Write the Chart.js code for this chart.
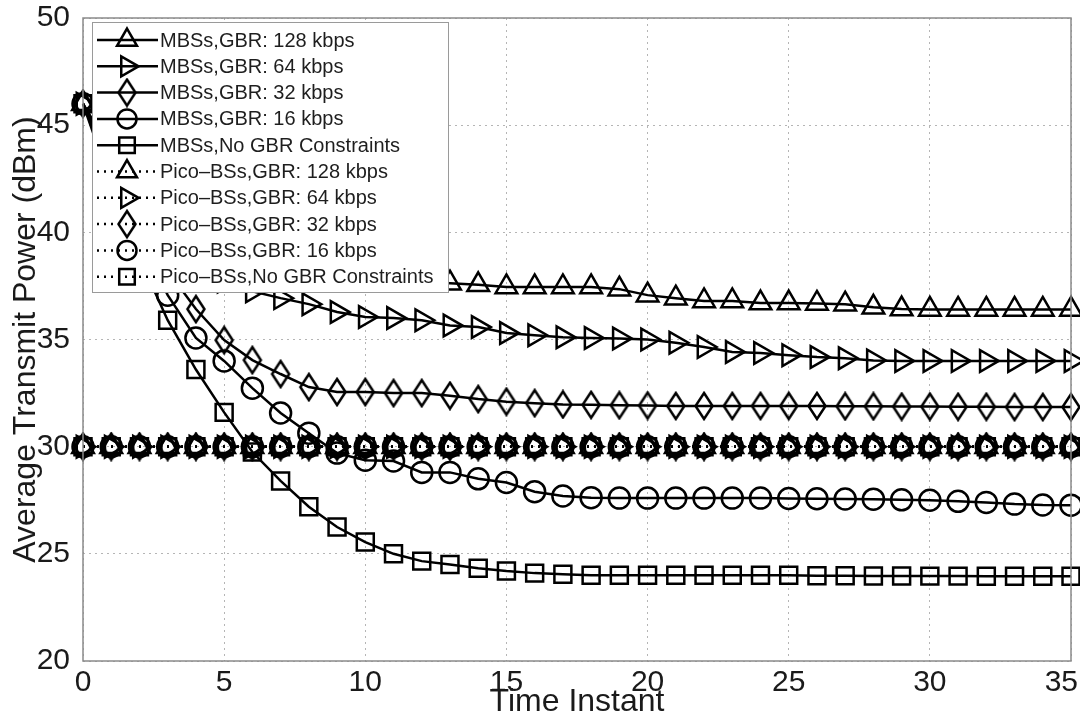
<!DOCTYPE html>
<html>
<head>
<meta charset="utf-8">
<script src="https://cdn.jsdelivr.net/npm/chart.js@4.4.1/dist/chart.umd.min.js"></script>
<style>
  html, body { margin: 0; padding: 0; background: #fff; }
  #wrap { width: 1080px; height: 718px; }
</style>
</head>
<body>
<div id="wrap"><canvas id="powerChart" width="1080" height="718"></canvas></div>
<script>
// Average transmit power over time, MBSs vs Pico-BSs
const timeInstant = [0, 1, 2, 3, 4, 5, 6, 7, 8, 9, 10, 11, 12, 13, 14, 15, 16, 17, 18, 19, 20, 21, 22, 23, 24, 25, 26, 27, 28, 29, 30, 31, 32, 33, 34, 35];
const xTicks = [0, 5, 10, 15, 20, 25, 30, 35];
const yTicks = [20, 25, 30, 35, 40, 45, 50];

const mbs128 = [46, 43.8, 41.8, 40.2, 39.2, 38.6, 38.2, 38.0, 37.9, 37.85, 37.8, 37.75, 37.7, 37.63, 37.55, 37.45, 37.45, 37.45, 37.45, 37.35, 37.07, 36.93, 36.8, 36.8, 36.7, 36.7, 36.68, 36.65, 36.5, 36.42, 36.4, 36.4, 36.4, 36.4, 36.4, 36.4];
const mbs64 = [46, 43.5, 41.2, 39.6, 38.4, 37.7, 37.25, 36.93, 36.65, 36.28, 36.05, 36.0, 35.9, 35.65, 35.58, 35.3, 35.2, 35.1, 35.07, 35.05, 35.0, 34.85, 34.65, 34.42, 34.37, 34.27, 34.18, 34.13, 34.02, 34.0, 34.0, 34.0, 34.0, 34.0, 34.0, 34.0];
const mbs32 = [46, 43.2, 40.4, 38.2, 36.42, 34.97, 34.04, 33.39, 32.78, 32.55, 32.55, 32.5, 32.5, 32.38, 32.22, 32.1, 32.03, 31.97, 31.95, 31.93, 31.92, 31.9, 31.9, 31.9, 31.9, 31.9, 31.9, 31.88, 31.88, 31.87, 31.87, 31.86, 31.86, 31.85, 31.85, 31.85];
const mbs16 = [46, 42.8, 39.8, 37.07, 35.07, 34.0, 32.73, 31.57, 30.63, 29.7, 29.37, 29.33, 28.8, 28.8, 28.5, 28.33, 27.9, 27.7, 27.62, 27.6, 27.6, 27.6, 27.6, 27.6, 27.6, 27.58, 27.57, 27.56, 27.55, 27.52, 27.5, 27.45, 27.4, 27.32, 27.28, 27.27];
const mbsNoGbr = [46, 42.2, 38.8, 35.9, 33.6, 31.6, 29.75, 28.4, 27.2, 26.25, 25.55, 25.0, 24.66, 24.5, 24.33, 24.2, 24.1, 24.05, 24.0, 24.0, 24.0, 24.0, 24.0, 24.0, 24.0, 24.0, 23.98, 23.98, 23.97, 23.97, 23.96, 23.96, 23.95, 23.95, 23.95, 23.95];

const pico128 = [30, 30, 30, 30, 30, 30, 30, 30, 30, 30, 30, 30, 30, 30, 30, 30, 30, 30, 30, 30, 30, 30, 30, 30, 30, 30, 30, 30, 30, 30, 30, 30, 30, 30, 30, 30];
const pico64 = [30, 30, 30, 30, 30, 30, 30, 30, 30, 30, 30, 30, 30, 30, 30, 30, 30, 30, 30, 30, 30, 30, 30, 30, 30, 30, 30, 30, 30, 30, 30, 30, 30, 30, 30, 30];
const pico32 = [30, 30, 30, 30, 30, 30, 30, 30, 30, 30, 30, 30, 30, 30, 30, 30, 30, 30, 30, 30, 30, 30, 30, 30, 30, 30, 30, 30, 30, 30, 30, 30, 30, 30, 30, 30];
const pico16 = [30, 30, 30, 30, 30, 30, 30, 30, 30, 30, 30, 30, 30, 30, 30, 30, 30, 30, 30, 30, 30, 30, 30, 30, 30, 30, 30, 30, 30, 30, 30, 30, 30, 30, 30, 30];
const picoNoGbr = [30, 30, 30, 30, 30, 30, 30, 30, 30, 30, 30, 30, 30, 30, 30, 30, 30, 30, 30, 30, 30, 30, 30, 30, 30, 30, 30, 30, 30, 30, 30, 30, 30, 30, 30, 30];

const seriesLabels = [
    'MBSs,GBR: 128 kbps', 'MBSs,GBR: 64 kbps', 'MBSs,GBR: 32 kbps', 'MBSs,GBR: 16 kbps', 'MBSs,No GBR Constraints',
    'Pico\u2013BSs,GBR: 128 kbps', 'Pico\u2013BSs,GBR: 64 kbps', 'Pico\u2013BSs,GBR: 32 kbps', 'Pico\u2013BSs,GBR: 16 kbps', 'Pico\u2013BSs,No GBR Constraints'
];
const seriesValues = [mbs128, mbs64, mbs32, mbs16, mbsNoGbr, pico128, pico64, pico32, pico16, picoNoGbr];

// matlab-like tall diamond, chart.js rectRot is a square one
function tallDiamond() {
    const c = document.createElement('canvas');
    c.width = 22; c.height = 30;
    const g = c.getContext('2d');
    g.strokeStyle = '#000';
    g.lineWidth = 2.5;
    g.beginPath();
    g.moveTo(11, 2); g.lineTo(19.5, 15); g.lineTo(11, 28); g.lineTo(2.5, 15);
    g.closePath();
    g.stroke();
    return c;
}
const diamondImg = tallDiamond();

// marker per GBR level: [style, rotation, radius]
const markers = [
    ['triangle', 0, 12.5],
    ['triangle', 90, 12.5],
    [diamondImg, 0, 12],
    ['circle', 0, 10.5],
    ['rect', 0, 12]
];

const FONT = '"Liberation Sans", Arial, sans-serif';

const datasets = seriesValues.map(function(vals, i) {
    const m = markers[i % 5];
    const dotted = i >= 5;
    return {
        label: seriesLabels[i],
        data: vals.map(function(v, k) { return { x: timeInstant[k], y: v }; }),
        borderColor: '#000',
        borderWidth: 2.5,
        borderDash: dotted ? [2, 5] : [],
        backgroundColor: 'rgba(0,0,0,0)',
        pointStyle: m[0],
        pointRotation: m[1],
        pointRadius: m[2],
        pointBorderWidth: 2.5,
        pointBorderColor: '#000',
        pointBackgroundColor: 'rgba(0,0,0,0)',
        tension: 0,
        fill: false,
        clip: false
    };
});

// axes box + matlab style legend drawn on top of the lines
const frameAndLegend = {
    id: 'frameAndLegend',
    afterDatasetsDraw(chart) {
        const ctx = chart.ctx;
        const a = chart.chartArea;
        ctx.save();
        ctx.setLineDash([]);
        ctx.strokeStyle = '#8a8a8a';
        ctx.lineWidth = 1.5;
        ctx.strokeRect(a.left, a.top, a.right - a.left, a.bottom - a.top);

        const bx = a.left + 9, by = a.top + 4, bw = 356, bh = 270;
        ctx.fillStyle = '#fff';
        ctx.fillRect(bx, by, bw, bh);
        ctx.strokeStyle = '#9a9a9a';
        ctx.lineWidth = 1;
        ctx.strokeRect(bx + 0.5, by + 0.5, bw, bh);

        chart.data.datasets.forEach(function(ds, i) {
            const cy = by + 18 + i * 26.3;
            ctx.strokeStyle = '#000';
            ctx.lineWidth = ds.borderWidth;
            ctx.setLineDash(ds.borderDash);
            ctx.beginPath();
            ctx.moveTo(bx + 5, cy);
            ctx.lineTo(bx + 66, cy);
            ctx.stroke();
            ctx.setLineDash([]);
            ctx.fillStyle = 'rgba(0,0,0,0)';
            ctx.lineWidth = ds.pointBorderWidth;
            Chart.helpers.drawPoint(ctx, {
                pointStyle: ds.pointStyle,
                rotation: ds.pointRotation,
                radius: ds.pointRadius - 1,
                borderWidth: ds.pointBorderWidth
            }, bx + 35, cy);
            ctx.fillStyle = '#1e1e1e';
            ctx.font = '20px ' + FONT;
            ctx.textBaseline = 'middle';
            ctx.textAlign = 'left';
            ctx.fillText(ds.label, bx + 68, cy + 1);
        });

        // x tick labels, placed on the x scale; last one kept inside the canvas
        const xs = chart.scales.x;
        ctx.fillStyle = '#1a1a1a';
        ctx.font = '30px ' + FONT;
        ctx.textAlign = 'center';
        ctx.textBaseline = 'alphabetic';
        xTicks.forEach(function(v) {
            const txt = String(v);
            const half = ctx.measureText(txt).width / 2;
            const px = Math.min(xs.getPixelForValue(v), chart.width - 2 - half);
            ctx.fillText(txt, px, a.bottom + 30);
        });
        ctx.restore();
    }
};

const ctx = document.getElementById('powerChart').getContext('2d');
const powerChart = new Chart(ctx, {
    type: 'line',
    data: { datasets: datasets },
    options: {
        responsive: false,
        animation: false,
        layout: { autoPadding: false, padding: { left: 0, top: 18, right: 9, bottom: 0 } },
        plugins: {
            legend: { display: false },
            tooltip: { enabled: false }
        },
        scales: {
            x: {
                type: 'linear',
                min: 0,
                max: 35,
                afterFit: function(scale) { scale.height = 57; scale.paddingLeft = 0; scale.paddingRight = 0; },
                afterBuildTicks: function(scale) { scale.ticks = xTicks.map(function(v) { return { value: v }; }); },
                grid: { color: '#b5b5b5', lineWidth: 1, drawTicks: false },
                border: { display: false, dash: [2, 4] },
                ticks: { display: false },
                title: { display: true, text: 'Time Instant', color: '#1a1a1a', font: { family: FONT, size: 32, lineHeight: 1 }, padding: { top: 0, bottom: 0 } }
            },
            y: {
                type: 'linear',
                min: 20,
                max: 50,
                afterFit: function(scale) { scale.width = 83; scale.paddingTop = 0; scale.paddingBottom = 0; },
                afterBuildTicks: function(scale) { scale.ticks = yTicks.map(function(v) { return { value: v }; }); },
                grid: { color: '#b5b5b5', lineWidth: 1, drawTicks: false },
                border: { display: false, dash: [2, 4] },
                ticks: { color: '#1a1a1a', font: { family: FONT, size: 30, lineHeight: 1 }, padding: 13 },
                title: { display: true, text: 'Average Transmit Power (dBm)', color: '#1a1a1a', font: { family: FONT, size: 32, lineHeight: 1 }, padding: { top: 10, bottom: 0 } }
            }
        }
    },
    plugins: [frameAndLegend]
});
</script>
</body>
</html>
